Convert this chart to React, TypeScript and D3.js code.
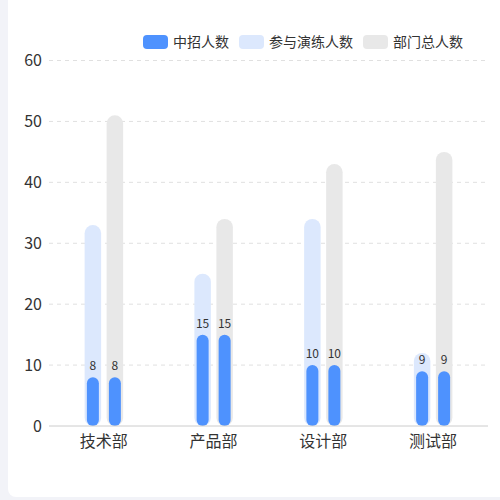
import React from "react";
import * as d3 from "d3";

const categories = ["技术部", "产品部", "设计部", "测试部"];
const infected = [8, 15, 10, 9];
const participated = [33, 25, 34, 12];
const totals = [51, 34, 43, 45];
const yTicks = [0, 10, 20, 30, 40, 50, 60];
const legendNames = ["中招人数", "参与演练人数", "部门总人数"];
const slots = ["participated", "total"];

const BLUE = "#4e92fe";
const LIGHT = "#dce8fd";
const GRAY = "#e8e8e8";
const FONT = "'Noto Sans CJK SC', 'Noto Sans', sans-serif";

export default function App() {
  const W = 500, H = 500;
  const x = d3.scaleBand<string>().domain(categories).range([49, 488]).padding(0);
  const y = d3.scaleLinear().domain([0, 60]).range([426, 60.5]);
  const slot = d3.scalePoint<string>().domain(slots).range([-11, 11]);
  const bgW = 16.5;
  const fgW = 12;
  const base = y(0);

  const legendColors = [BLUE, LIGHT, GRAY];
  const legendX = [143, 239, 363];

  const roundedBar = (cx: number, top: number, w: number, color: string, key: string) => {
    const h = base - top;
    const r = Math.min(w / 2, h / 2);
    return <rect key={key} x={cx - w / 2} y={top} width={w} height={h} rx={r} ry={r} fill={color} />;
  };

  return (
    <div style={{ position: "fixed", left: 0, top: 0, width: W, height: H }}>
      <svg width={W} height={H} style={{ display: "block", fontFamily: FONT }}>
        <rect x={0} y={0} width={W} height={H} fill="#f2f3f8" />
        <rect x={8} y={-10} width={W} height={507} rx={8} ry={8} fill="#ffffff" />
        {/* grid */}
        {yTicks.map((t) => (
          <g key={t}>
            {t !== 0 && (
              <line x1={49} x2={488} y1={y(t)} y2={y(t)} stroke="#e0e0e0" strokeWidth={1} strokeDasharray="4,4" />
            )}
            <text x={42} y={y(t)} dy="0.35em" textAnchor="end" fontSize={16} fill="#333">
              {t}
            </text>
          </g>
        ))}
        {/* bars */}
        {categories.map((c, i) => {
          const cx = (x(c) as number) + x.bandwidth() / 2;
          const c1 = cx + (slot("participated") as number);
          const c2 = cx + (slot("total") as number);
          const ty = y(infected[i]);
          return (
            <g key={c}>
              {roundedBar(c1, y(participated[i]), bgW, LIGHT, "p")}
              {roundedBar(c2, y(totals[i]), bgW, GRAY, "t")}
              {roundedBar(c1, ty, fgW, BLUE, "i1")}
              {roundedBar(c2, ty, fgW, BLUE, "i2")}
              <text x={c1} y={ty - 7} textAnchor="middle" fontSize={12} fill="#333">{infected[i]}</text>
              <text x={c2} y={ty - 7} textAnchor="middle" fontSize={12} fill="#333">{infected[i]}</text>
              <text x={cx} y={447} textAnchor="middle" fontSize={16} fill="#333">{c}</text>
            </g>
          );
        })}
        <line x1={49} x2={488} y1={base} y2={base} stroke="#cccccc" strokeWidth={1} />
        {/* legend */}
        {legendNames.map((n, i) => (
          <g key={n}>
            <rect x={legendX[i]} y={35} width={25} height={14} rx={4} ry={4} fill={legendColors[i]} />
            <text x={legendX[i] + 30} y={42} dy="0.35em" fontSize={14} fill="#333">{n}</text>
          </g>
        ))}
      </svg>
    </div>
  );
}
